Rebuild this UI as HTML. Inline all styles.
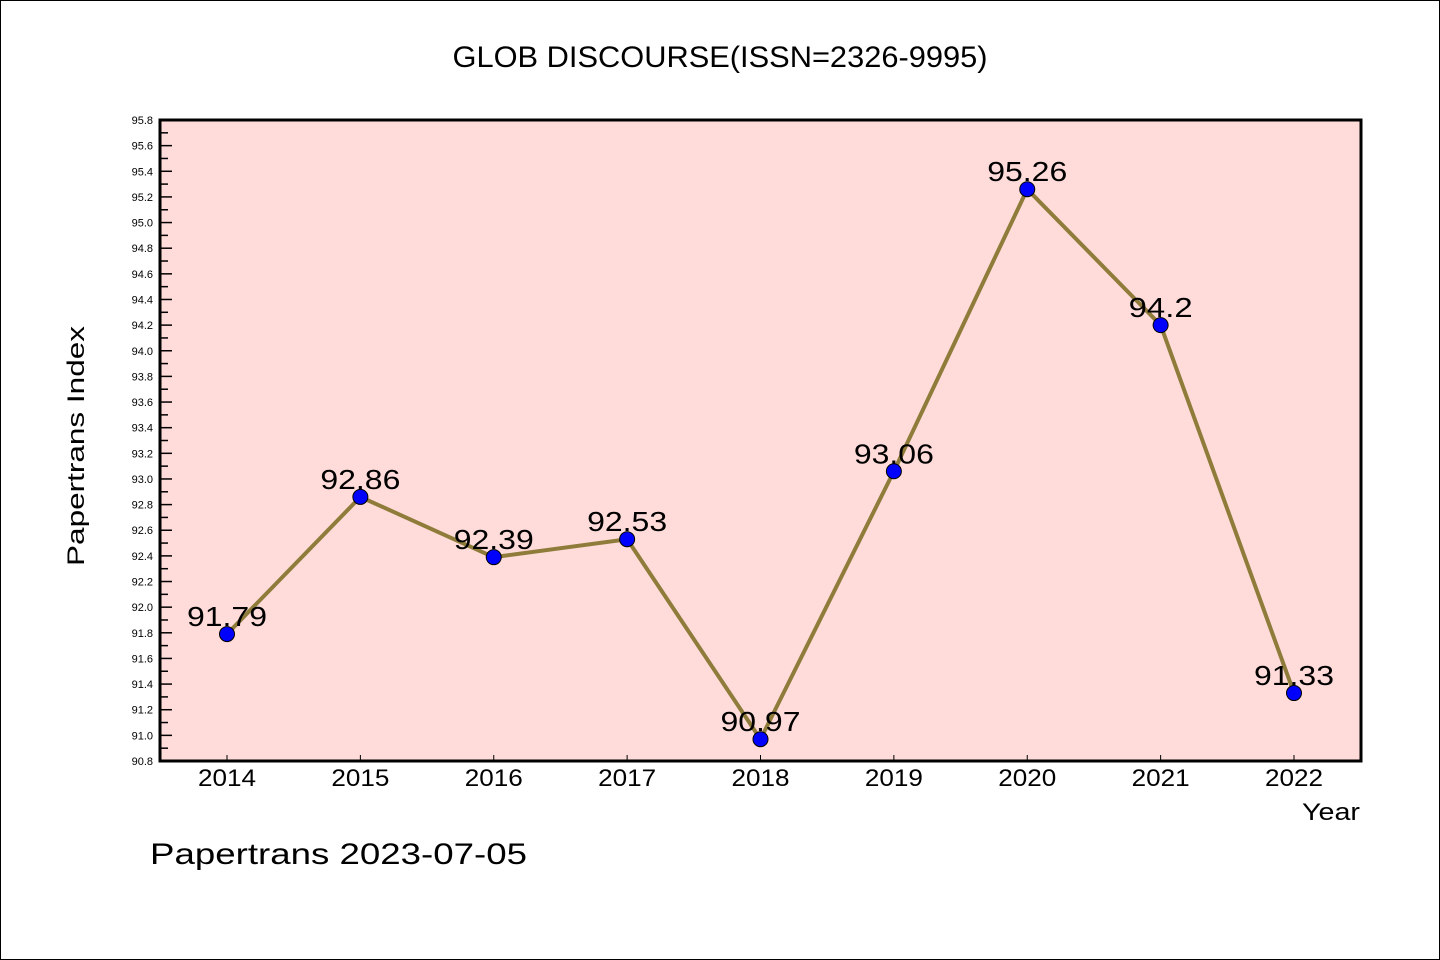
<!DOCTYPE html>
<html><head><meta charset="utf-8"><style>
html,body{margin:0;padding:0;background:#fff}
svg{display:block}
text{font-family:"WenQuanYi Zen Hei","Liberation Sans",sans-serif;fill:#000}
</style></head><body>
<svg id="chart" width="1440" height="960" xmlns="http://www.w3.org/2000/svg">
<rect x="0.5" y="0.5" width="1439" height="959" fill="#fff" stroke="#000" stroke-width="1"/>
<text x="720" y="67" font-size="30" text-anchor="middle" textLength="535" lengthAdjust="spacingAndGlyphs">GLOB DISCOURSE(ISSN=2326-9995)</text>
<rect x="160" y="120" width="1201" height="641" fill="#ffdcd9"/>
<g id="yaxis"></g>
<g id="xaxis"></g>
<g id="series"></g>
<rect x="160" y="120" width="1201" height="641" fill="none" stroke="#000" stroke-width="3"/>
<text transform="translate(84,446) rotate(-90)" font-size="24" text-anchor="middle" textLength="240" lengthAdjust="spacingAndGlyphs">Papertrans Index</text>
<text x="1360" y="820" font-size="24" text-anchor="end" textLength="58" lengthAdjust="spacingAndGlyphs">Year</text>
<text x="150" y="864" font-size="30" textLength="377" lengthAdjust="spacingAndGlyphs">Papertrans 2023-07-05</text>
</svg>
<script>
const categories = ["2014","2015","2016","2017","2018","2019","2020","2021","2022"];
const values = [91.79,92.86,92.39,92.53,90.97,93.06,95.26,94.2,91.33];
const labels = ["91.79","92.86","92.39","92.53","90.97","93.06","95.26","94.2","91.33"];
const yMin = 90.8, yMax = 95.8;
const NS = "http://www.w3.org/2000/svg";
const L=160,R=1361,T=120,B=761;
function y(v){return B-(v-yMin)/(yMax-yMin)*(B-T);}
function x(i){return 227+i*(1294-227)/(categories.length-1);}
function mk(tag,attrs,parent){const e=document.createElementNS(NS,tag);for(const k in attrs)e.setAttribute(k,attrs[k]);parent.appendChild(e);return e;}
const ya=document.getElementById('yaxis');
for(let k=0;k<=50;k++){
  const v=yMin+k*0.1, yy=y(v), major=k%2===0;
  const t=mk('line',{x1:L,x2:L+(major?12:8),y1:yy,y2:yy,stroke:'#000','stroke-width':1.5},ya);
  
  
  if(major){
    const tx=mk('text',{x:L-7,y:yy+4,'font-size':11,'text-anchor':'end'},ya);
    tx.textContent=v.toFixed(1);
    
    
  }
}
const xa=document.getElementById('xaxis');
categories.forEach((c,i)=>{
  const t=mk('line',{x1:x(i),x2:x(i),y1:B,y2:B-6,stroke:'#000','stroke-width':1},xa);
  
  
  const tx=mk('text',{x:x(i),y:B+25,'font-size':24,'text-anchor':'middle',textLength:58,lengthAdjust:'spacingAndGlyphs'},xa);
  tx.textContent=c;
  
  
});
const s=document.getElementById('series');
const pl=mk('polyline',{points:values.map((v,i)=>x(i)+','+y(v)).join(' '),fill:'none',stroke:'#8f7c3a','stroke-width':4},s);


values.forEach((v,i)=>{
  const c=mk('circle',{cx:x(i),cy:y(v),r:7.5,fill:'#0000ff',stroke:'#000','stroke-width':1},s);
  
  
  const tx=mk('text',{x:x(i),y:y(v)-8,'font-size':28,'text-anchor':'middle',textLength:labels[i].length*16,lengthAdjust:'spacingAndGlyphs'},s);
  tx.textContent=labels[i];
  
  
});
</script>
</body></html>
